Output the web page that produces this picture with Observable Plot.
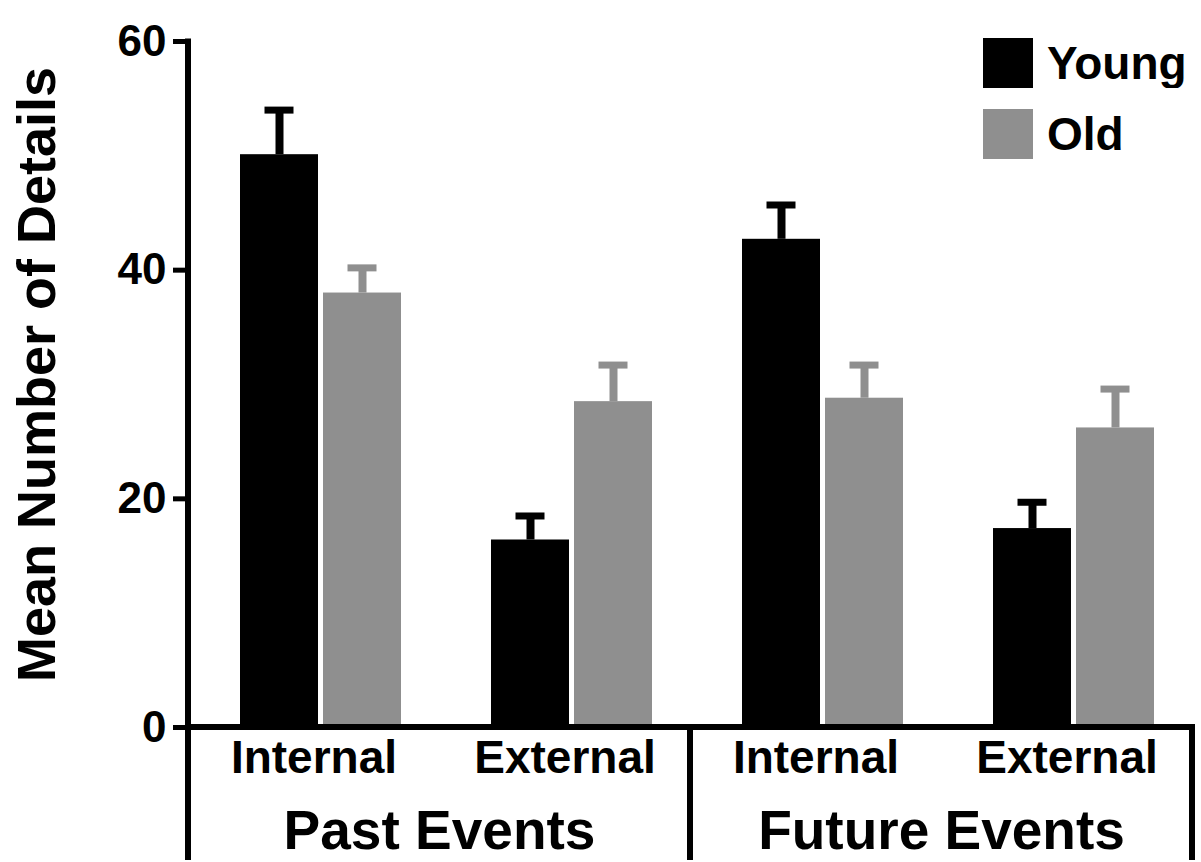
<!DOCTYPE html>
<html><head><meta charset="utf-8">
<script src="https://cdn.jsdelivr.net/npm/d3@7"></script>
<script src="https://cdn.jsdelivr.net/npm/@observablehq/plot@0.6"></script>
<style>
html,body{margin:0;padding:0;background:#fff;}
#chart{position:relative;width:1201px;height:862px;overflow:hidden;}
#chart svg{font-family:"Liberation Sans",Arial,sans-serif;font-weight:bold;}
#legend{position:absolute;left:983px;top:38px;margin:0 !important;font-family:"Liberation Sans",Arial,sans-serif !important;font-weight:bold;font-size:46px !important;color:#000;}
#legend .lg-swatch{margin:0 0 20px 0 !important;height:50px;line-height:50px;font-size:46px;display:flex;align-items:center;}
#legend .lg-swatch > svg{margin-right:14px !important;flex-shrink:0;}
</style></head><body><div id="chart"></div>
<script>
const events = ["Past Events", "Future Events"];
const detailTypes = ["Internal", "External"];
const groups = ["Young", "Old"];
// order: Past Internal, Past External, Future Internal, Future External
const youngMeans = [50.1, 16.4, 42.7, 17.4];
const youngErrTop = [54.0, 18.5, 45.7, 19.7];
const oldMeans = [38.0, 28.5, 28.8, 26.2];
const oldErrTop = [40.2, 31.7, 31.7, 29.6];
const yTicks = [0, 20, 40, 60];
const yLabel = "Mean Number of Details";
const colors = ["#000000", "#8f8f8f"];

const cats = events.flatMap(e => detailTypes.map(t => e + "|" + t));
const data = [];
cats.forEach((c, i) => {
  data.push({cat: c, group: "Young", mean: youngMeans[i], top: youngErrTop[i]});
  data.push({cat: c, group: "Old", mean: oldMeans[i], top: oldErrTop[i]});
});
const eventLabels = events.map(e => ({cat: e + "|" + detailTypes[0], text: e}));
const yLabelData = [{cat: cats[0], text: yLabel}];

const plot = Plot.plot({
  width: 1201, height: 862,
  marginLeft: 187, marginRight: 8, marginTop: 41, marginBottom: 135,
  style: {background: "white", fontFamily: "Liberation Sans, Arial, sans-serif", fontWeight: "bold", overflow: "visible"},
  fx: {domain: cats, padding: 0, axis: null},
  x: {domain: groups, paddingInner: 0.06, paddingOuter: 0.53, align: 0.58, axis: null},
  y: {domain: [0, 60], axis: null},
  color: {domain: groups, range: colors},
  marks: [
    Plot.barY(data, {fx: "cat", x: "group", y: "mean", fill: "group"}),
    Plot.ruleX(data, {fx: "cat", x: "group", y1: "mean", y2: "top", stroke: "group", strokeWidth: 8}),
    Plot.tickY(data, {fx: "cat", x: "group", y: "top", stroke: "group", strokeWidth: 7, insetLeft: 24.5, insetRight: 24.5}),
    Plot.axisY(yTicks, {anchor: "left", tickSize: 15, tickPadding: 7, fontSize: 44, strokeWidth: 5, label: null, tickFormat: d => d}),
    Plot.axisFx({anchor: "bottom", tickSize: 0, tickPadding: 13, fontSize: 46, tickFormat: d => d.split("|")[1], label: null}),
    Plot.text(yLabelData, {fx: "cat", text: "text", frameAnchor: "left", rotate: -90, lineAnchor: "top", textAnchor: "middle", dx: -172, dy: -10, fontSize: 54, fill: "black"}),
    Plot.text(eventLabels, {fx: "cat", text: "text", frameAnchor: "bottom-right", lineAnchor: "middle", textAnchor: "middle", dy: 104, fontSize: 55, fill: "black"})
  ]
});
document.getElementById("chart").appendChild(plot);

// axis bracket lines, positioned through the plot's own scales
const fxs = plot.scale("fx");
const ys = plot.scale("y");
const bandOf = (c) => fxs.apply ? fxs.apply(c) : fxs.range[0] + cats.indexOf(c) * fxs.step;
const bw = fxs.bandwidth;
const xLeft = bandOf(cats[0]);
const xMid = bandOf(cats[2]);
const xRight = bandOf(cats[3]) + bw;
const yTop = ys.apply(yTicks[yTicks.length - 1]);
const y0 = ys.apply(0);
const H = 862;
const svg = d3.select(plot);
const g = svg.append("g").attr("stroke", "black").attr("stroke-width", 6).attr("fill", "none");
g.append("line").attr("x1", xLeft).attr("x2", xLeft).attr("y1", yTop - 2.5).attr("y2", H - 2);
g.append("line").attr("x1", xLeft).attr("x2", xRight).attr("y1", y0).attr("y2", y0);
g.append("line").attr("x1", xMid).attr("x2", xMid).attr("y1", y0).attr("y2", H - 2);
g.append("line").attr("x1", xRight).attr("x2", xRight).attr("y1", y0 - 3).attr("y2", H - 2);

const legend = Plot.legend({color: {domain: groups, range: colors}, legend: "swatches", swatchSize: 50, columns: 1, className: "lg"});
legend.id = "legend";
document.getElementById("chart").appendChild(legend);
</script></body></html>
